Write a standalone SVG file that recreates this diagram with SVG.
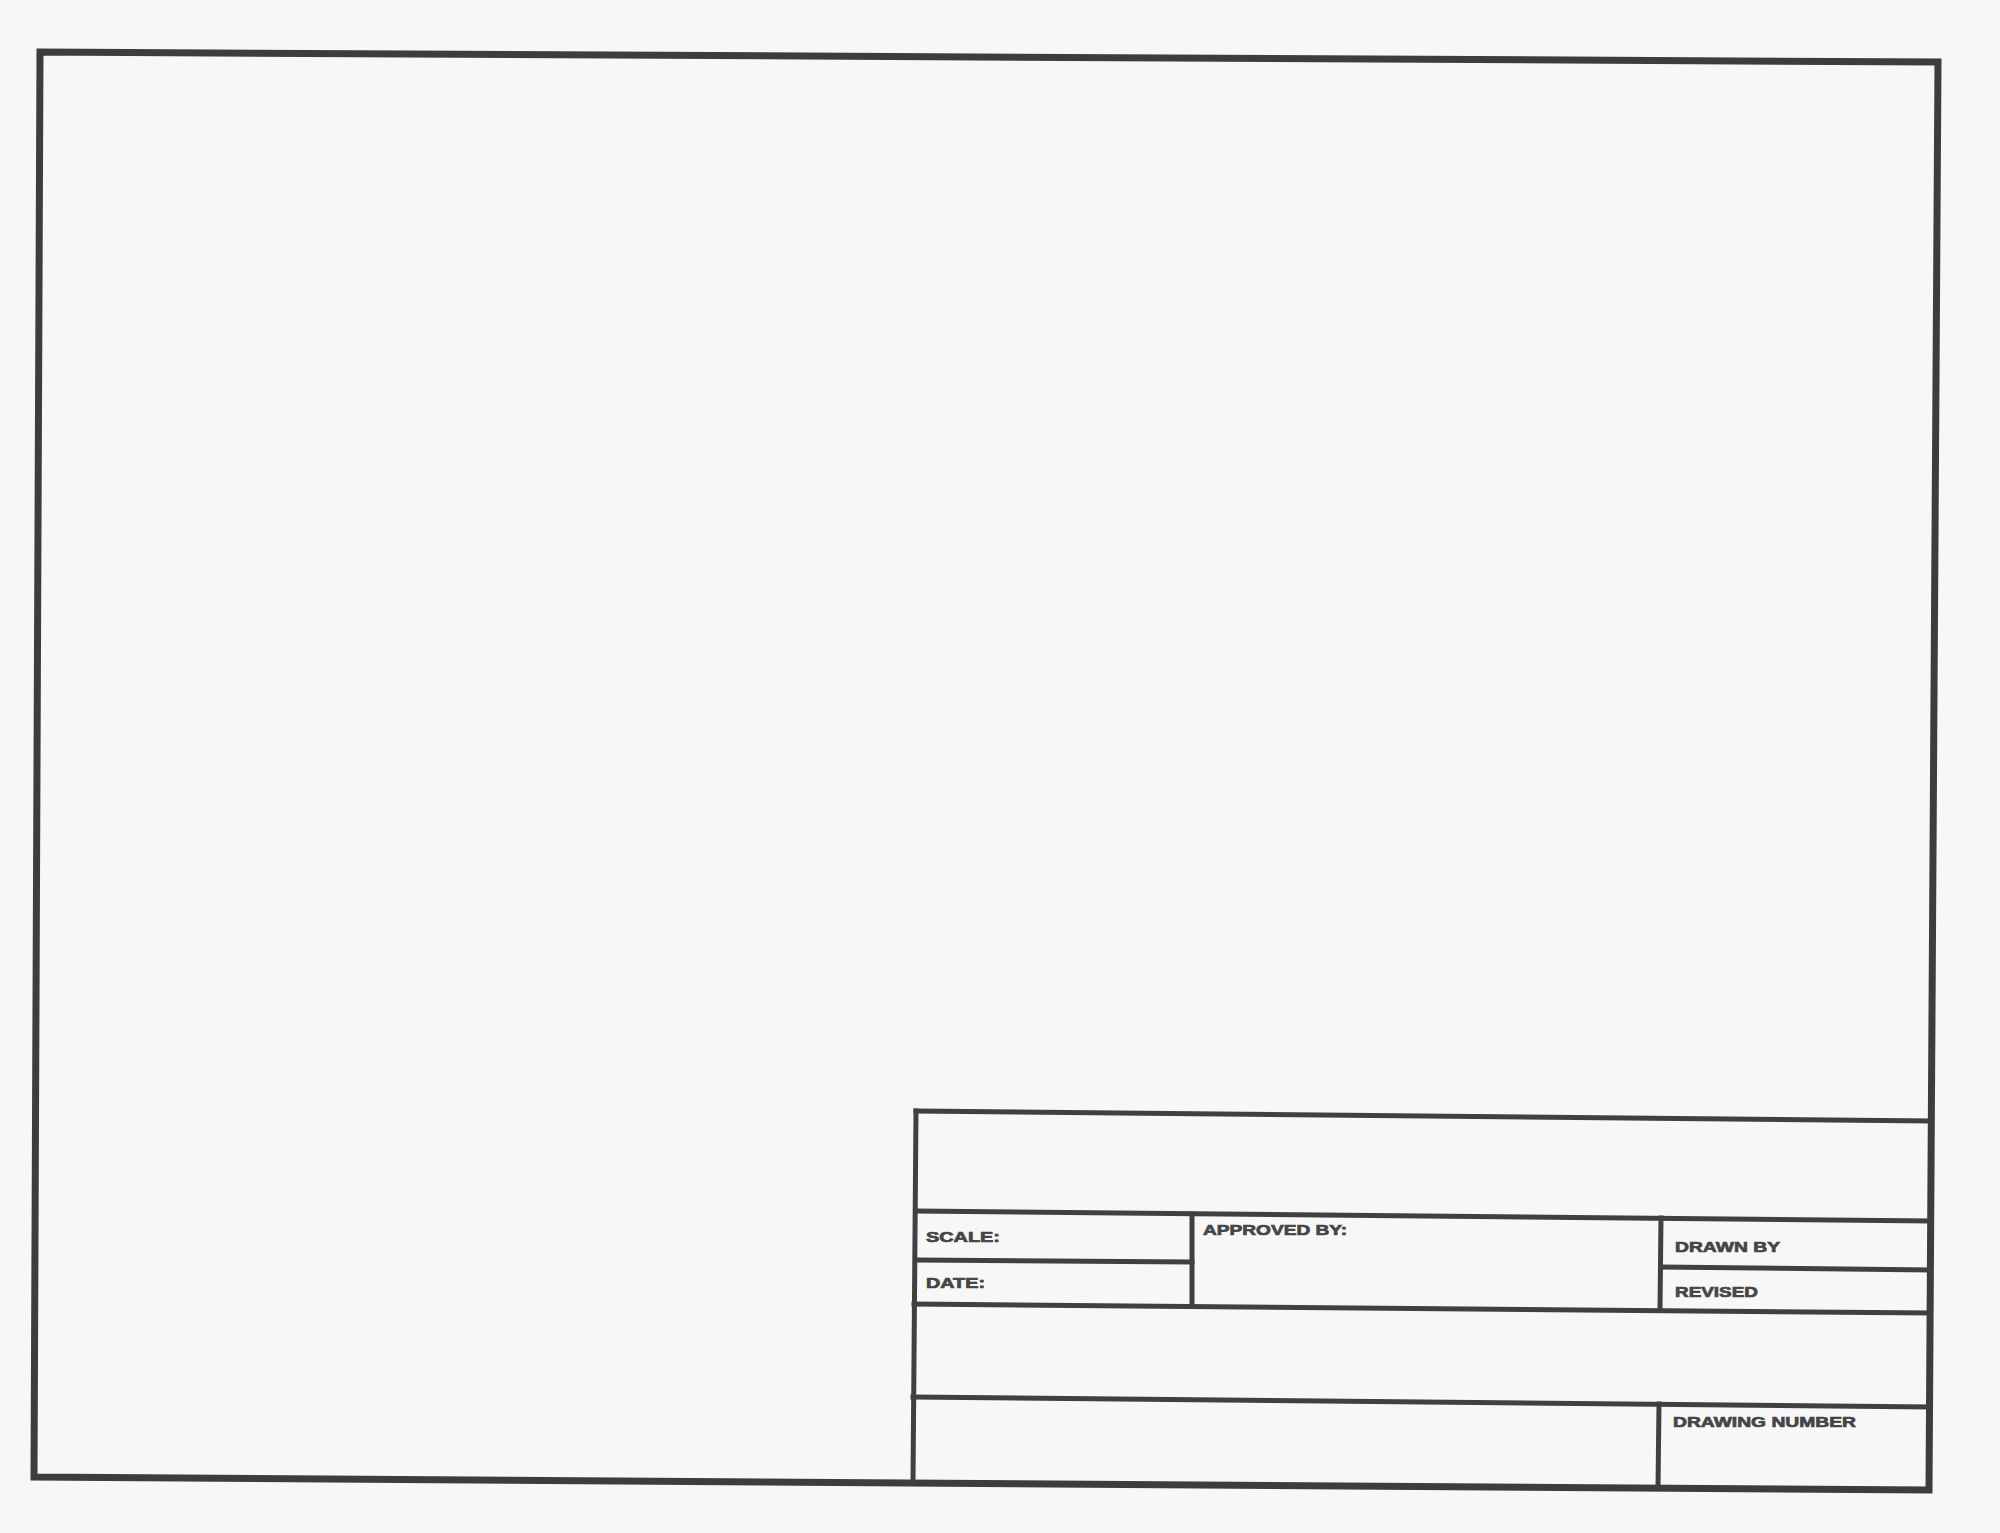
<svg xmlns="http://www.w3.org/2000/svg" width="2000" height="1533" viewBox="0 0 2000 1533">
<style>
.bd{fill:none;stroke:#3d3d3d;stroke-width:7;stroke-linejoin:miter;stroke-linecap:square}
.ln{fill:none;stroke:#404040;stroke-width:5;stroke-linecap:square}
.lb{font-family:"Liberation Sans",Arial,sans-serif;font-weight:bold;font-size:15px;fill:#454545;stroke:#454545;stroke-width:0.7}
</style>
<rect x="0" y="0" width="2000" height="1533" fill="#f7f7f8"/>
<g id="border">
<polygon class="bd" points="40,52 1938,62 1929,1490 34,1477"/>
</g>
<g id="connectors">
<polyline class="ln" points="916,1111 1931,1121"/>
<polyline class="ln" points="916,1111 913,1483"/>
<polyline class="ln" points="916,1211 1930,1221"/>
<polyline class="ln" points="916,1260 1192,1262"/>
<polyline class="ln" points="1192,1214 1192,1306"/>
<polyline class="ln" points="1661,1218 1660,1310"/>
<polyline class="ln" points="1661,1267 1930,1270"/>
<polyline class="ln" points="914,1304 1930,1313"/>
<polyline class="ln" points="913,1397 1929,1407"/>
<polyline class="ln" points="1659,1404 1658,1488"/>
</g>
<g id="scale"><text class="lb" x="926" y="1242" textLength="74" lengthAdjust="spacingAndGlyphs">SCALE:</text></g>
<g id="date"><text class="lb" x="926" y="1288" textLength="59" lengthAdjust="spacingAndGlyphs">DATE:</text></g>
<g id="approved"><text class="lb" x="1203" y="1235" textLength="144" lengthAdjust="spacingAndGlyphs">APPROVED BY:</text></g>
<g id="drawn"><text class="lb" x="1675" y="1252" textLength="105" lengthAdjust="spacingAndGlyphs">DRAWN BY</text></g>
<g id="revised"><text class="lb" x="1675" y="1297" textLength="83" lengthAdjust="spacingAndGlyphs">REVISED</text></g>
<g id="drawing-number"><text class="lb" x="1673" y="1427" textLength="183" lengthAdjust="spacingAndGlyphs">DRAWING NUMBER</text></g>
</svg>
